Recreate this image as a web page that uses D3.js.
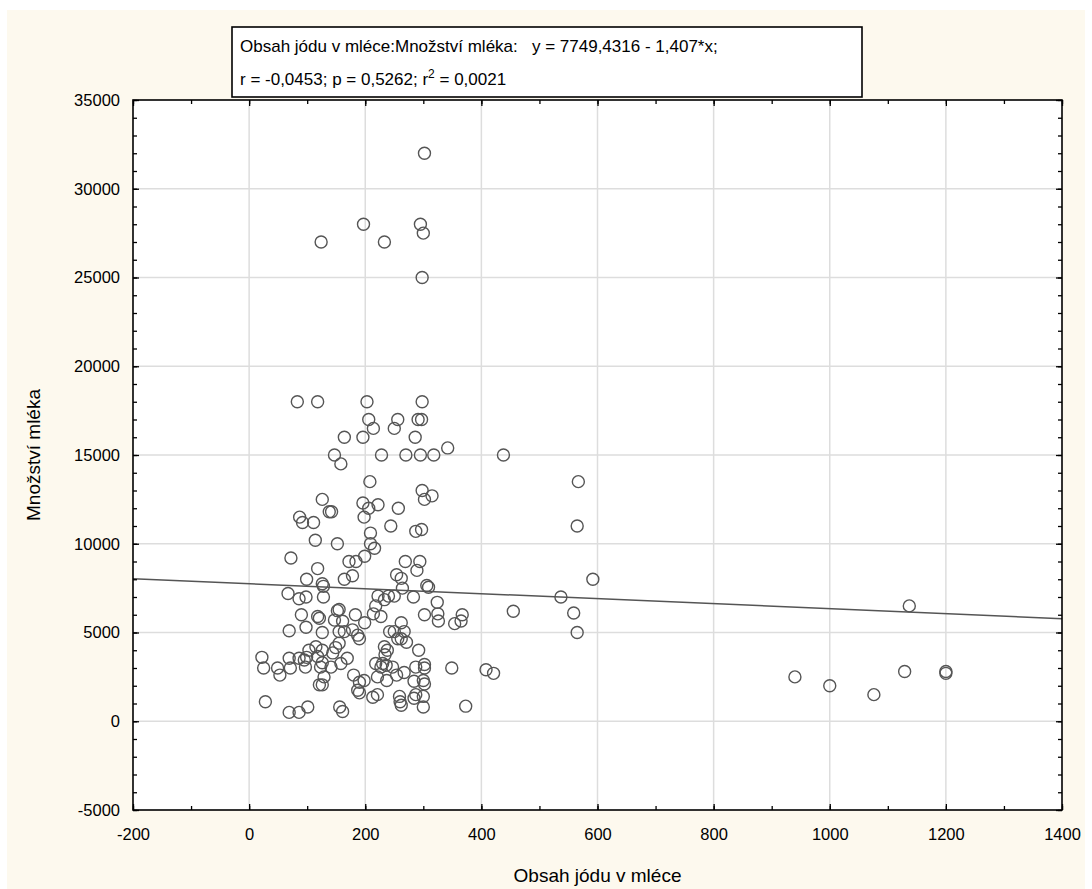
<!DOCTYPE html>
<html><head><meta charset="utf-8">
<script src="https://cdn.jsdelivr.net/npm/d3@7"></script>
<style>
body{margin:0;background:#fff;}
svg text{font-family:"Liberation Sans",Arial,sans-serif;fill:#000;}
</style></head><body>
<svg id="c" width="1092" height="889"></svg>
<script>
const xTicks = [-200,0,200,400,600,800,1000,1200,1400];
const yTicks = [-5000,0,5000,10000,15000,20000,25000,30000,35000];
const titleLine1 = "Obsah jódu v mléce:Množství mléka:   y = 7749,4316 - 1,407*x;";
const titleLine2 = ["r = -0,0453; p = 0,5262; r", "2", " = 0,0021"];
const xLabel = "Obsah jódu v mléce";
const yLabel = "Množství mléka";
const fitIntercept = 7749.4316, fitSlope = -1.407;

const iodine = [302,197,295,300,233,124,298,83,118,203,298,206,256,291,297,214,250,164,196,286,
147,158,228,270,295,318,342,438,208,567,298,126,302,315,196,206,222,257,138,142,
87,92,111,198,244,565,287,297,209,114,152,209,216,72,172,184,199,269,294,118,
289,99,164,178,254,262,592,306,309,126,128,264,67,86,98,128,222,233,240,250,
283,537,324,218,214,227,302,325,326,354,365,367,455,559,565,155,152,183,199,147,
161,164,155,178,187,190,262,242,250,267,256,262,271,233,238,234,230,292,144,149,
155,169,158,141,218,227,236,247,287,302,302,349,408,421,180,221,254,267,198,190,
187,190,237,284,300,302,221,213,259,260,262,287,284,300,300,373,156,161,69,98,
126,90,118,121,22,25,49,53,69,71,86,95,99,97,103,115,126,118,126,123,
129,121,126,28,69,86,101,940,1000,1076,1137,1129,1200,1200];
const milk = [32000,28000,28000,27500,27000,27000,25000,18000,18000,18000,18000,17000,17000,17000,17000,16500,16500,16000,16000,16000,
15000,14500,15000,15000,15000,15000,15400,15000,13500,13500,13000,12500,12500,12700,12300,12000,12200,12000,11800,11800,
11500,11200,11200,11500,11000,11000,10700,10800,10600,10200,10000,10000,9750,9200,9000,9000,9300,9000,9000,8600,
8500,8000,8000,8200,8250,8050,8000,7650,7550,7750,7600,7500,7200,6900,7000,7000,7050,6850,7050,7050,
7000,7000,6700,6500,6050,5900,6000,6050,5650,5500,5650,6000,6200,6100,5000,6300,6230,6000,5550,5700,
5630,5050,5050,5150,4850,4650,5550,5050,5050,5050,4650,4650,4450,4200,4000,3750,3250,4000,3850,4150,
4400,3550,3250,3050,3250,3050,3150,3050,3050,3200,3000,3000,2900,2700,2600,2500,2600,2750,2300,2200,
1750,1600,2300,2250,2300,2100,1500,1350,1400,1100,900,1500,1300,1400,800,850,800,550,5100,5300,
5000,6000,5900,5800,3600,3000,3000,2600,3550,3000,3550,3450,3600,3050,4000,4200,4000,3650,3300,3050,
2500,2050,2050,1100,500,500,800,2500,2000,1500,6500,2800,2800,2700];

const svg = d3.select("#c");
const L=133, R=1062, T=100, B=810;
const x = d3.scaleLinear().domain([-200,1400]).range([L,R]);
const y = d3.scaleLinear().domain([-5000,35000]).range([B,T]);

// background
svg.append("rect").attr("x",7).attr("y",10).attr("width",1078).attr("height",879).attr("fill","#fdf9ee");
svg.append("rect").attr("x",L).attr("y",T).attr("width",R-L).attr("height",B-T).attr("fill","#fff");

// grid
svg.append("g").selectAll("line").data(xTicks.slice(1,-1)).join("line")
  .attr("x1",d=>x(d)).attr("x2",d=>x(d)).attr("y1",T).attr("y2",B)
  .attr("stroke","#dddddd").attr("stroke-width",1.5);
svg.append("g").selectAll("line").data(yTicks.slice(1,-1)).join("line")
  .attr("y1",d=>y(d)).attr("y2",d=>y(d)).attr("x1",L).attr("x2",R)
  .attr("stroke","#dddddd").attr("stroke-width",1.5);

// regression line
svg.append("line")
  .attr("x1",x(-200)).attr("y1",y(fitIntercept+fitSlope*(-200)))
  .attr("x2",x(1400)).attr("y2",y(fitIntercept+fitSlope*1400))
  .attr("stroke","#555").attr("stroke-width",1.5);

// points
svg.append("g").selectAll("circle").data(iodine.map((d,i)=>[d,milk[i]])).join("circle")
  .attr("cx",d=>x(d[0])).attr("cy",d=>y(d[1])).attr("r",6)
  .attr("fill","none").attr("stroke","#555").attr("stroke-width",1.4);

// axes with inward ticks
const xMinor = d3.range(-200,1401,100);
const yMinor = d3.range(-5000,35001,1000);
const axB = d3.axisBottom(x).tickValues(xMinor).tickSize(-4).tickFormat("");
const axT = d3.axisTop(x).tickValues(xMinor).tickSize(-4).tickFormat("");
const axL = d3.axisLeft(y).tickValues(yMinor).tickSize(-4).tickFormat("");
const axR = d3.axisRight(y).tickValues(yMinor).tickSize(-4).tickFormat("");
const axB2 = d3.axisBottom(x).tickValues(xTicks).tickSize(-6).tickFormat(d=>String(d)).tickPadding(18);
const axL2 = d3.axisLeft(y).tickValues(yTicks).tickSize(-6).tickFormat(d=>String(d)).tickPadding(13);
const axT2 = d3.axisTop(x).tickValues(xTicks).tickSize(-6).tickFormat("");
const axR2 = d3.axisRight(y).tickValues(yTicks).tickSize(-6).tickFormat("");
function styleAx(g){g.select(".domain").remove();g.selectAll("line").attr("stroke","#000").attr("stroke-width",1.3);
  g.selectAll("text").attr("font-size",16.5).attr("fill","#000").attr("font-family","Liberation Sans, Arial, sans-serif");}
svg.append("g").attr("transform",`translate(0,${B})`).call(axB).call(styleAx);
svg.append("g").attr("transform",`translate(0,${T})`).call(axT).call(styleAx);
svg.append("g").attr("transform",`translate(${L},0)`).call(axL).call(styleAx);
svg.append("g").attr("transform",`translate(${R},0)`).call(axR).call(styleAx);
svg.append("g").attr("transform",`translate(0,${B})`).call(axB2).call(styleAx);
svg.append("g").attr("transform",`translate(${L},0)`).call(axL2).call(styleAx);
svg.append("g").attr("transform",`translate(0,${T})`).call(axT2).call(styleAx);
svg.append("g").attr("transform",`translate(${R},0)`).call(axR2).call(styleAx);

// frame
svg.append("rect").attr("x",L).attr("y",T).attr("width",R-L).attr("height",B-T)
  .attr("fill","none").attr("stroke","#000").attr("stroke-width",1.6);

// axis titles
svg.append("text").attr("x",(L+R)/2).attr("y",882).attr("text-anchor","middle").attr("font-size",19).text(xLabel);
svg.append("text").attr("transform",`translate(40,${(T+B)/2}) rotate(-90)`).attr("text-anchor","middle").attr("font-size",19).text(yLabel);

// title box
svg.append("rect").attr("x",232).attr("y",27).attr("width",630).attr("height",70)
  .attr("fill","#fff").attr("stroke","#000").attr("stroke-width",1.6);
svg.append("text").attr("x",240).attr("y",52).attr("font-size",17).style("white-space","pre").text(titleLine1);
const t2 = svg.append("text").attr("x",240).attr("y",85).attr("font-size",17).style("white-space","pre");
t2.append("tspan").text(titleLine2[0]);
t2.append("tspan").attr("dy",-7).attr("font-size",12).text(titleLine2[1]);
t2.append("tspan").attr("dy",7).text(titleLine2[2]);
</script></body></html>
